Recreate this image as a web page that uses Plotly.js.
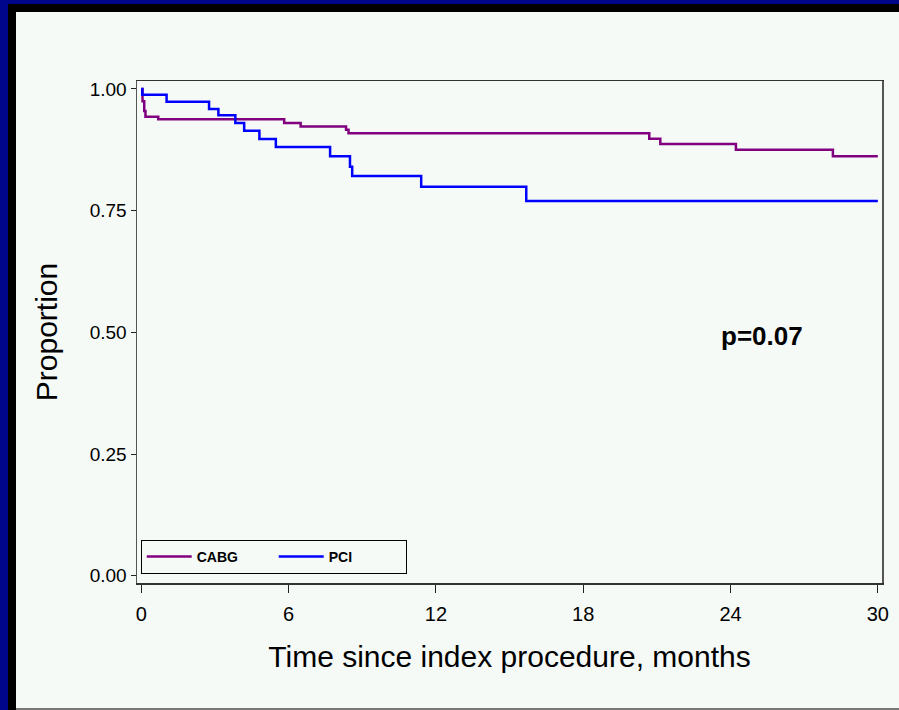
<!DOCTYPE html>
<html>
<head>
<meta charset="utf-8">
<script src="https://cdn.plot.ly/plotly-3.0.1.min.js"></script>
<style>
  html, body { margin: 0; padding: 0; }
  body { width: 899px; height: 710px; background: #00068c; position: relative; overflow: hidden; }
  #black { position: absolute; left: 8px; top: 4px; width: 891px; height: 706px; background: #000; }
  #chart { position: absolute; left: 16px; top: 12px; width: 883px; height: 696px; }
  #bottomline { position: absolute; left: 16px; top: 708px; width: 883px; height: 2px; background: #777; }
</style>
</head>
<body>
<div id="black"></div>
<div id="chart"></div>
<div id="bottomline"></div>
<script>
// CABG Kaplan-Meier step curve (months, proportion)
const cabgTime = [0, 0.05, 0.12, 0.17, 0.69, 5.82, 6.49, 8.34, 8.44, 20.69, 21.14, 24.22, 28.17, 30];
const cabgProp = [1.0, 0.975, 0.955, 0.943, 0.938, 0.930, 0.923, 0.916, 0.909, 0.898, 0.887, 0.875, 0.862, 0.862];
// PCI Kaplan-Meier step curve
const pciTime = [0, 0.04, 1.03, 2.76, 3.14, 3.83, 4.19, 4.81, 5.48, 7.69, 8.50, 8.59, 11.40, 15.68, 30];
const pciProp = [1.0, 0.988, 0.974, 0.959, 0.946, 0.930, 0.914, 0.897, 0.881, 0.862, 0.840, 0.821, 0.799, 0.770, 0.770];

const xTicks = [0, 6, 12, 18, 24, 30];
const yTicks = [0, 0.25, 0.5, 0.75, 1.0];
const seriesNames = ["CABG", "PCI"];
const pText = "p=0.07";

const font = "Liberation Sans, Arial, sans-serif";

const traces = [
  { x: cabgTime, y: cabgProp, name: seriesNames[0], type: "scatter", mode: "lines",
    line: { shape: "hv", color: "#800080", width: 2.5 } },
  { x: pciTime, y: pciProp, name: seriesNames[1], type: "scatter", mode: "lines",
    line: { shape: "hv", color: "#0000ff", width: 2.5 } }
];

const layout = {
  width: 883, height: 696,
  paper_bgcolor: "#f6faf7",
  plot_bgcolor: "#f6faf7",
  margin: { l: 121, r: 17, t: 69, b: 125 },
  showlegend: true,
  legend: {
    orientation: "h",
    x: 0.005, y: 0.086, xanchor: "left", yanchor: "top",
    bordercolor: "#000", borderwidth: 1, bgcolor: "rgba(0,0,0,0)",
    font: { family: font, size: 14, color: "#000", weight: "bold" },
    itemwidth: 45,
    entrywidth: 72, entrywidthmode: "pixels",
    traceorder: "normal"
  },
  xaxis: {
    range: [-0.175, 30.17],
    tickvals: xTicks,
    ticktext: xTicks.map(String),
    ticks: "outside", ticklen: 8, tickwidth: 1, tickcolor: "#222",
    showline: true, linecolor: "#333", linewidth: 1.5, mirror: true,
    showgrid: false, zeroline: false,
    tickfont: { family: font, size: 20, color: "#000" },
    ticklabelstandoff: 4,
    title: { text: "Time since index procedure, months", font: { family: font, size: 30, color: "#000" }, standoff: 22 },
    automargin: false
  },
  yaxis: {
    range: [-0.015, 1.0164],
    tickvals: yTicks,
    ticktext: yTicks.map(v => v.toFixed(2)),
    ticks: "outside", ticklen: 5, tickwidth: 1, tickcolor: "#222",
    showline: true, linecolor: "#555", linewidth: 1.5, mirror: true,
    showgrid: false, zeroline: false,
    tickfont: { family: font, size: 19, color: "#000" },
    title: { text: "Proportion", font: { family: font, size: 30, color: "#000" }, standoff: 23 },
    automargin: false
  },
  annotations: [
    { x: 25.3, y: 0.492, xref: "x", yref: "y", text: "<b>" + pText + "</b>", showarrow: false,
      font: { family: font, size: 26, color: "#000" } }
  ]
};

Plotly.newPlot("chart", traces, layout, { displayModeBar: false, staticPlot: true });
</script>
</body>
</html>
